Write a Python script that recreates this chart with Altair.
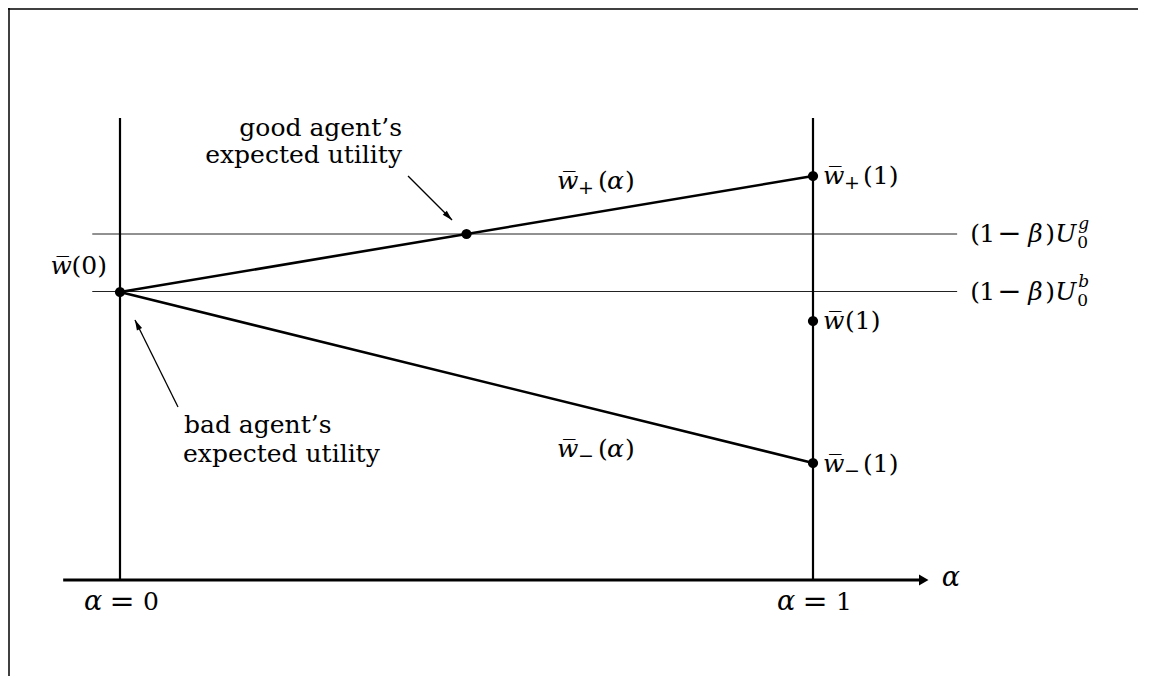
import math
import altair as alt
import pandas as pd

# ---------------- values ----------------
alpha_ends = [0.0, 1.0]            # alpha = 0 and alpha = 1
w_bar_0 = 2.88                     # w̄(0)  (= (1-β)U0^b)
w_plus_1 = 4.04                    # w̄+(1)
w_bar_1 = 2.59                     # w̄(1)
w_minus_1 = 1.17                   # w̄-(1)
U_good = 3.46                      # (1-β)U0^g
U_bad = 2.885                      # (1-β)U0^b
alpha_cross = 0.50                 # where w̄+(α) meets (1-β)U0^g
vline_top = 4.62                   # top of the two vertical lines
ref_span = [-0.040, 1.208]         # horizontal reference lines extent
axis_span = [-0.082, 1.167]        # α axis extent (arrow tip at the end)
good_arrow = [(0.4156, 4.04), (0.4791, 3.60)]   # from -> to
bad_arrow = [(0.0837, 1.73), (0.0216, 2.60)]    # from -> to
lab_plus_alpha = (0.6306, 3.91)
lab_minus_alpha = (0.6306, 1.23)

# ---------------- geometry of the drawing area ----------------
W, H = 1130, 668
PXX, PXY = 693.0, 100.0            # pixels per unit
X_DOM = [-112 / PXX, -112 / PXX + W / PXX]
Y_DOM = [5.72 - H / PXY, 5.72]
FONT = "DejaVu Serif"
BIG, SUB = 25, 19


def X(f="x"):
    return alt.X(f"{f}:Q", scale=alt.Scale(domain=X_DOM, nice=False, zero=False), axis=None)


def Y(f="y"):
    return alt.Y(f"{f}:Q", scale=alt.Scale(domain=Y_DOM, nice=False, zero=False), axis=None)


def segs(rows, width, color="black"):
    df = pd.DataFrame(rows, columns=["x", "y", "x2", "y2"])
    return alt.Chart(df).mark_rule(color=color, strokeWidth=width, strokeCap="butt").encode(
        x=X(), y=Y(), x2="x2:Q", y2="y2:Q"
    )


def piece(anchor, text, dx=0, dy=0, italic=False, size=BIG, align="left"):
    df = pd.DataFrame({"x": [anchor[0]], "y": [anchor[1]], "t": [text]})
    return alt.Chart(df).mark_text(
        font=FONT, fontSize=size, fontStyle="italic" if italic else "normal",
        align=align, baseline="alphabetic", dx=dx, dy=dy, color="black"
    ).encode(x=X(), y=Y(), text="t:N")


def head(tip, angle, shape, size, back):
    # centre of the arrow head placed 'back' pixels behind the tip
    a = math.radians(angle)
    cx = tip[0] - back * math.sin(a) / PXX
    cy = tip[1] - back * math.cos(a) / PXY
    df = pd.DataFrame({"x": [cx], "y": [cy]})
    return alt.Chart(df).mark_point(
        shape=shape, size=size, angle=angle, filled=True, color="black", opacity=1, strokeWidth=0
    ).encode(x=X(), y=Y())


def direction(p0, p1):
    dxp = (p1[0] - p0[0]) * PXX
    dyp = (p1[1] - p0[1]) * PXY
    return math.degrees(math.atan2(dxp, dyp)) % 360


layers = []

# frame: left edge and top edge
layers.append(segs([[X_DOM[0] + 1 / PXX, Y_DOM[0], X_DOM[0] + 1 / PXX, Y_DOM[1]]], 1.5))
layers.append(segs([[X_DOM[0], Y_DOM[1] - 0.01, X_DOM[1], Y_DOM[1] - 0.01]], 1.5))

# thin horizontal reference lines
layers.append(segs([[ref_span[0], U_good, ref_span[1], U_good],
                    [ref_span[0], U_bad, ref_span[1], U_bad]], 1.0, "#222"))

# vertical lines at α = 0 and α = 1
layers.append(segs([[a, 0, a, vline_top] for a in alpha_ends], 2.2))

# α axis
layers.append(segs([[axis_span[0], 0, axis_span[1] - 6 / PXX, 0]], 2.8))
layers.append(head((axis_span[1], 0), 90, "triangle-up", 120, 5))

# w̄+(α) and w̄-(α)
layers.append(segs([[alpha_ends[0], w_bar_0, alpha_ends[1], w_plus_1],
                    [alpha_ends[0], w_bar_0, alpha_ends[1], w_minus_1]], 2.6))

# annotation arrows
arrow_head = "M0,-1L0.55,1L-0.55,1Z"
for p0, p1 in (good_arrow, bad_arrow):
    layers.append(segs([[p0[0], p0[1], p1[0], p1[1]]], 1.3))
    layers.append(head(p1, direction(p0, p1), arrow_head, 110, 5))

# dots
dots = pd.DataFrame({
    "x": [alpha_ends[0], alpha_cross, alpha_ends[1], alpha_ends[1], alpha_ends[1]],
    "y": [w_bar_0, U_good, w_plus_1, w_bar_1, w_minus_1],
})
layers.append(alt.Chart(dots).mark_circle(size=105, color="black", opacity=1).encode(x=X(), y=Y()))

WB = "w\u0305"   # w with overline

# w̄(0)
a = (alpha_ends[0], w_bar_0)
layers += [piece(a, "(0)", dx=-13, dy=-18, align="right"),
           piece(a, WB, dx=-48, dy=-18, italic=True, align="right")]

# right-hand labels
for val, sub, dy in ((w_plus_1, "+", 8), (w_bar_1, None, 8), (w_minus_1, "\u2212", 9)):
    a = (alpha_ends[1], val)
    layers.append(piece(a, WB, dx=10, dy=dy, italic=True))
    if sub:
        layers.append(piece(a, sub, dx=31, dy=dy + 5, size=SUB))
        layers.append(piece(a, "(1)", dx=50, dy=dy))
    else:
        layers.append(piece(a, "(1)", dx=32, dy=dy))

# w̄±(α) labels
for a, sub in ((lab_plus_alpha, "+"), (lab_minus_alpha, "\u2212")):
    layers += [piece(a, WB, italic=True),
               piece(a, sub, dx=21, dy=5, size=SUB),
               piece(a, "(", dx=41),
               piece(a, "\u03b1", dx=50, italic=True),
               piece(a, ")", dx=68)]

# (1 - β)U0^g, (1 - β)U0^b
for val, sup in ((U_good, "g"), (U_bad, "b")):
    a = (ref_span[1], val)
    d = 8
    layers += [piece(a, "(", dx=13, dy=d),
               piece(a, "1", dx=22, dy=d),
               piece(a, "\u2212", dx=40, dy=d + 1, size=29),
               piece(a, "\u03b2", dx=71, dy=d, italic=True),
               piece(a, ")", dx=88, dy=d),
               piece(a, "U", dx=98, dy=d, italic=True),
               piece(a, "0", dx=120, dy=d + 6, size=SUB - 2),
               piece(a, sup, dx=121, dy=d - 13, size=SUB - 2, italic=True)]

# α = 0, α = 1
for av, digit in zip(alpha_ends, ["0", "1"]):
    a = (av, 0)
    layers += [piece(a, "\u03b1", dx=-36, dy=30, italic=True, size=27),
               piece(a, "=", dx=2, dy=31, align="center", size=30),
               piece(a, digit, dx=31, dy=30, align="center")]

# axis label α
layers.append(piece((axis_span[1], 0), "\u03b1", dx=13, dy=6, italic=True, size=27))

# annotations text
layers += [piece(good_arrow[0], "good agent\u2019s", dx=-6, dy=-40, align="right"),
           piece(good_arrow[0], "expected utility", dx=-6, dy=-13, align="right"),
           piece(bad_arrow[0], "bad agent\u2019s", dx=6, dy=26),
           piece(bad_arrow[0], "expected utility", dx=5, dy=55)]

chart = alt.layer(*layers).properties(
    width=W, height=H, padding=0,
    autosize=alt.AutoSizeParams(type="none"),
    background="white",
).configure_view(strokeWidth=0, strokeOpacity=0, stroke="transparent")

chart.save("out.html", embed_options={"renderer": "svg", "actions": False})
